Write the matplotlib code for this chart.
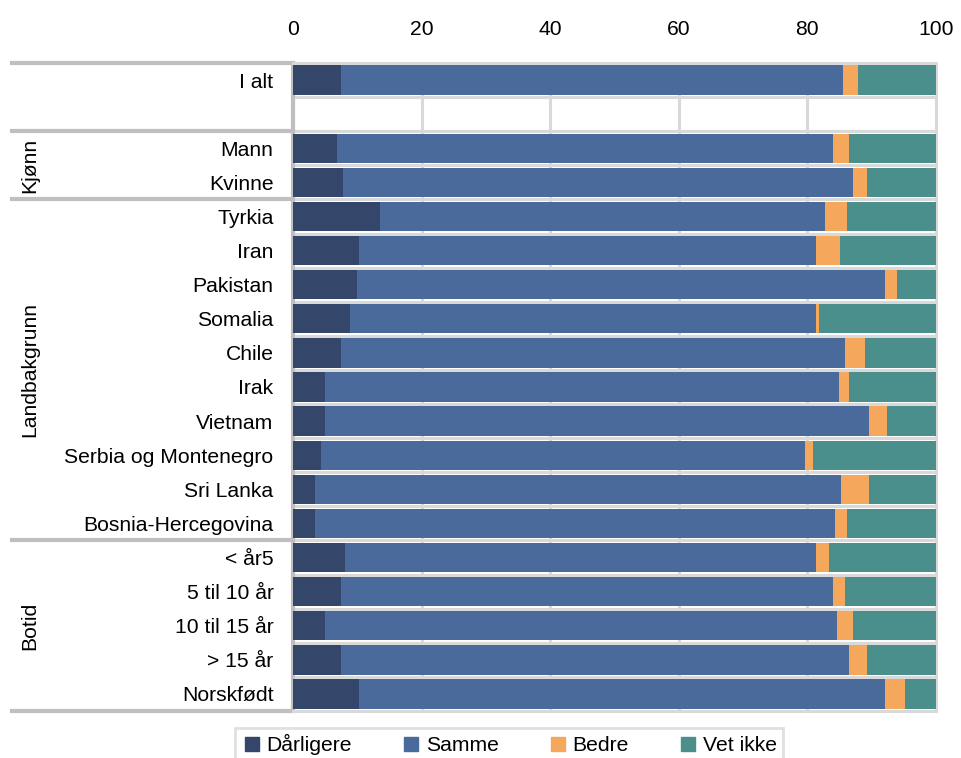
import matplotlib.pyplot as plt
from matplotlib.lines import Line2D
import matplotlib.transforms as mtransforms

plt.rcParams['font.family'] = ['Liberation Sans', 'DejaVu Sans']

labels = ['I alt', '', 'Mann', 'Kvinne', 'Tyrkia', 'Iran', 'Pakistan', 'Somalia', 'Chile',
          'Irak', 'Vietnam', 'Serbia og Montenegro', 'Sri Lanka', 'Bosnia-Hercegovina',
          '< år5', '5 til 10 år', '10 til 15 år', '> 15 år', 'Norskfødt']
darligere = [7.5, 0, 6.9, 7.8, 13.6, 10.2, 9.9, 8.9, 7.4, 4.9, 4.9, 4.3, 3.4, 3.4, 8.1, 7.4, 4.9, 7.4, 10.2]
samme = [78.0, 0, 77.1, 79.3, 69.2, 71.1, 82.2, 72.4, 78.5, 80.0, 84.7, 75.4, 81.9, 80.9, 73.2, 76.6, 79.7, 79.1, 81.9]
bedre = [2.3, 0, 2.5, 2.2, 3.4, 3.7, 1.8, 0.5, 3.1, 1.6, 2.8, 1.2, 4.3, 1.9, 2.1, 1.9, 2.5, 2.7, 3.1]
vet_ikke = [12.2, 0, 13.5, 10.7, 13.8, 15.0, 6.1, 18.2, 11.0, 13.5, 7.6, 19.1, 10.4, 13.8, 16.6, 14.1, 12.9, 10.8, 4.8]

series = [('Dårligere', darligere, '#34476a'),
          ('Samme', samme, '#4b6a9c'),
          ('Bedre', bedre, '#f5a85c'),
          ('Vet ikke', vet_ikke, '#4a8f8c')]

groups = [('Kjønn', 2.5), ('Landbakgrunn', 8.5), ('Botid', 16.0)]
separators = [-0.5, 1.5, 3.5, 13.5, 18.5]

fs = 15.2
fig = plt.figure(figsize=(9.62, 7.58), dpi=100)
ax = fig.add_axes([293 / 962, 1 - 711 / 758, 643 / 962, 648 / 758])

y = list(range(len(labels)))
left = [0] * len(labels)
for name, vals, col in series:
    ax.barh(y, vals, left=left, height=0.86, color=col, label=name, zorder=3)
    left = [a + b for a, b in zip(left, vals)]

ax.set_xlim(0, 100)
ax.set_ylim(len(labels) - 0.5, -0.5)
ax.set_xticks([0, 20, 40, 60, 80, 100])
ax.xaxis.tick_top()
ax.tick_params(axis='x', length=0, pad=17, labelsize=fs)
ax.set_yticks(y)
ax.set_yticklabels(labels)
ax.tick_params(axis='y', length=0, pad=14, labelsize=fs)

grid_col = '#d9d9d9'
for xv in [20, 40, 60, 80]:
    ax.axvline(xv, color=grid_col, lw=2.2, zorder=1)
for k in range(len(labels) + 1):
    ax.axhline(k - 0.5, color=grid_col, lw=2.2, zorder=1)

for s in ['top', 'right', 'bottom']:
    ax.spines[s].set_color(grid_col)
    ax.spines[s].set_linewidth(2.2)
ax.spines['left'].set_color('#bfbfbf')
ax.spines['left'].set_linewidth(3)

trans = mtransforms.blended_transform_factory(ax.transAxes, ax.transData)
for yy in separators:
    ax.add_line(Line2D([-0.437, -0.005], [yy, yy], transform=trans, color='#bfbfbf',
                       lw=3, clip_on=False))
for name, yy in groups:
    ax.text(-0.409, yy, name, transform=trans, rotation=90, ha='center', va='center', fontsize=fs)

handles = [Line2D([], [], marker='s', linestyle='none', markersize=10, color=c) for _, _, c in series]
leg = fig.legend(handles, [s[0] for s in series], loc='upper center',
                 bbox_to_anchor=(509 / 962, 1 - 728 / 758), ncol=4, fontsize=fs,
                 frameon=True, fancybox=False, handletextpad=0.2, columnspacing=2.3,
                 borderpad=0.3, borderaxespad=0, handlelength=1.0)
leg.get_frame().set_edgecolor(grid_col)
leg.get_frame().set_linewidth(2)

fig.savefig('out.png', dpi=100)
